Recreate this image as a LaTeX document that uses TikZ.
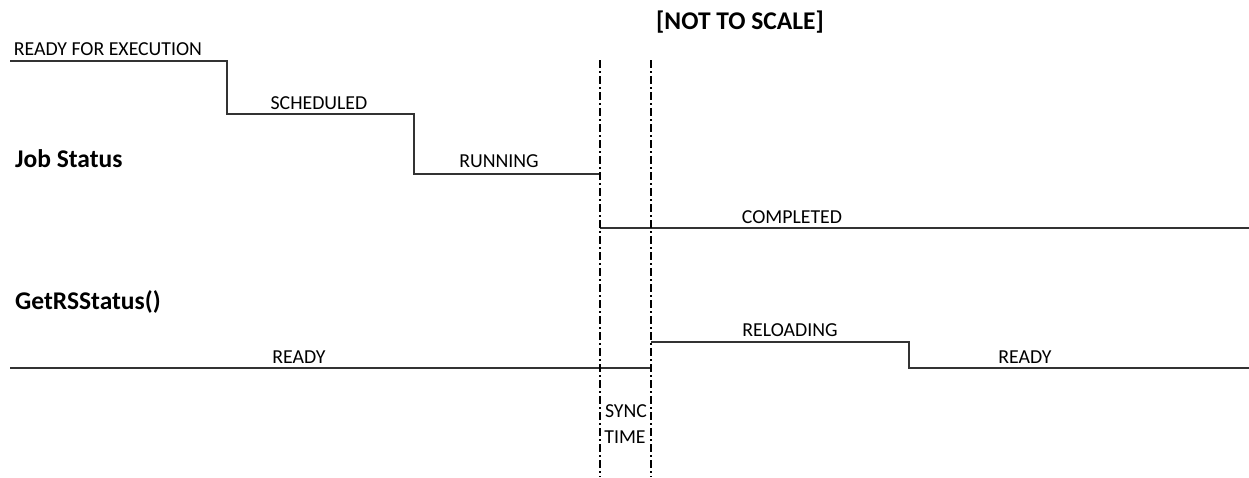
\documentclass[tikz,border=0pt]{standalone}
\usepackage{fontspec}
\setmainfont{Carlito}

\begin{document}
\begin{tikzpicture}[x=1pt, y=-1pt, every node/.style={inner sep=0pt,
                                  font=\fontsize{19.8}{21}\selectfont},
                    title/.style={font=\fontsize{25.5}{27}\selectfont\bfseries},
                    wave/.style={line width=1.4pt, draw=black!80},
                    syncline/.style={line width=2.6pt,
                                  dash pattern=on 8pt off 3pt on 2pt off 3pt}]
                      \useasboundingbox (0,0) rectangle (1249,477);

                      % job status steps
                      \coordinate (J0) at (10,61);
                      \coordinate (J1) at (227,61);
                      \coordinate (J2) at (227,114);
                      \coordinate (J3) at (414,114);
                      \coordinate (J4) at (414,174);
                      \coordinate (J5) at (599,174);
                      \coordinate (C0) at (600,228);
                      \coordinate (C1) at (1249,228);
                      \draw[wave] (J0) -- (J1) -- (J2) -- (J3) -- (J4) -- (J5);
                      \draw[wave] (C0) -- (C1);

                      % rs status steps
                      \coordinate (R0) at (10,368);
                      \coordinate (R1) at (651,368);
                      \coordinate (R2) at (651,342);
                      \coordinate (R3) at (909,342);
                      \coordinate (R4) at (909,368);
                      \coordinate (R5) at (1249,368);
                      \draw[wave] (R0) -- (R1);
                      \draw[wave] (R2) -- (R3) -- (R4) -- (R5);

                      % sync lines
                      \foreach \i/\x in {1/600,2/651} {
                              \coordinate (S\i) at (\x,60);
                              \coordinate (E\i) at (\x,477);
                              \draw[syncline] (S\i) -- (E\i);
                          }

                      \node[anchor=base] (rfe) at (108,55) {READY FOR EXECUTION};
                      \node[anchor=base] (sched) at (319,109) {SCHEDULED};
                      \node[anchor=base] (run) at (499,167) {RUNNING};
                      \node[anchor=base] (done) at (792,223) {COMPLETED};
                      \node[anchor=base] (ready1) at (299,363) {READY};
                      \node[anchor=base] (reload) at (790,336) {RELOADING};
                      \node[anchor=base] (ready2) at (1025,363) {READY};
                      \node[anchor=base] (sync) at (626,417) {SYNC};
                      \node[anchor=base] (time) at (625,443) {TIME};

                      \node[title, anchor=base west] (job) at (15,167) {Job Status};
                      \node[title, anchor=base west] (rs) at (15,309) {GetRSStatus()};
                      \node[title, anchor=base] (scale) at (740,29) {[NOT TO SCALE]};
                  \end{tikzpicture}
\end{document}
